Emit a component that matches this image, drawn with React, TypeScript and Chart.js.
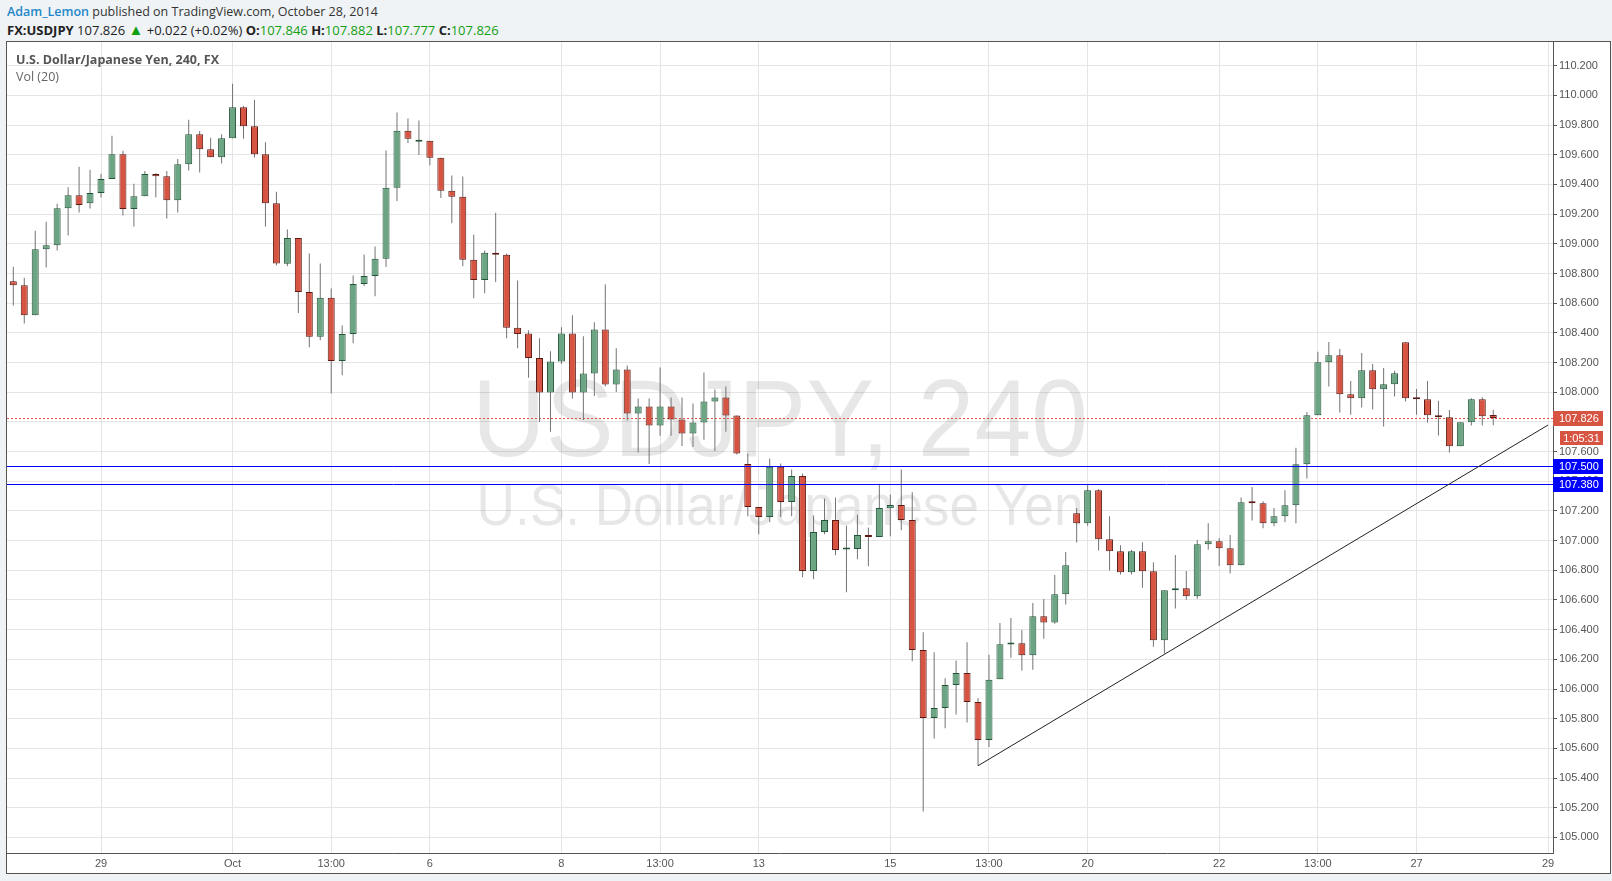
import React, { useEffect, useRef } from "react";
import { Chart, registerables } from "chart.js";

Chart.register(...registerables);

// ---- Candle data (4h USDJPY, Sep 26 - Oct 28 2014) ----
const opens = [
  108.748, 108.721, 108.519, 108.964, 108.991, 109.240, 109.328, 109.274, 109.342, 109.436,
  109.604, 109.234, 109.321, 109.470, 109.456, 109.294, 109.537, 109.739, 109.638, 109.584,
  109.712, 109.921, 109.793, 109.604, 109.274, 108.865, 109.040, 108.676, 108.373, 108.636,
  108.211, 108.393, 108.730, 108.784, 108.899, 109.378, 109.762, 109.688, 109.694, 109.580,
  109.357, 109.317, 108.892, 108.757, 108.939, 108.926, 108.434, 108.396, 108.231, 107.998,
  108.207, 108.396, 107.998, 108.126, 108.422, 108.052, 108.153, 107.856, 107.903, 107.775,
  107.903, 107.816, 107.721, 107.796, 107.937, 107.964, 107.843, 107.517, 107.227, 107.160,
  107.497, 107.261, 107.436, 106.796, 107.058, 107.139, 106.940, 106.944, 107.038, 107.025,
  107.218, 107.240, 107.139, 106.263, 105.804, 105.872, 106.027, 106.108, 105.912, 105.656,
  106.065, 106.300, 106.308, 106.227, 106.490, 106.449, 106.638, 107.184, 107.117, 107.339,
  107.009, 106.928, 106.787, 106.928, 106.793, 106.328, 106.665, 106.679, 106.625, 106.975,
  106.995, 106.948, 106.834, 107.258, 107.252, 107.117, 107.164, 107.238, 107.515, 107.845,
  108.202, 108.249, 107.987, 107.960, 108.148, 108.020, 108.054, 108.337, 107.957, 107.953,
  107.845, 107.831, 107.636, 107.798, 107.953, 107.846,
];
const highs = [
  108.845, 108.771, 109.088, 109.148, 109.270, 109.382, 109.519, 109.499, 109.472, 109.728,
  109.627, 109.404, 109.490, 109.476, 109.490, 109.571, 109.836, 109.760, 109.715, 109.739,
  110.079, 109.928, 109.971, 109.685, 109.351, 109.097, 109.040, 108.935, 108.867, 108.699,
  108.449, 108.787, 108.928, 108.982, 109.629, 109.885, 109.845, 109.831, 109.694, 109.580,
  109.461, 109.454, 109.063, 108.955, 109.209, 108.935, 108.753, 108.418, 108.364, 108.276,
  108.438, 108.519, 108.378, 108.472, 108.728, 108.297, 108.180, 107.957, 107.957, 108.166,
  107.964, 107.964, 107.924, 108.133, 108.018, 108.038, 107.843, 107.587, 107.227, 107.553,
  107.519, 107.479, 107.452, 107.169, 107.283, 107.290, 107.101, 107.175, 107.088, 107.384,
  107.310, 107.479, 107.326, 106.382, 106.247, 106.072, 106.193, 106.315, 105.937, 106.231,
  106.445, 106.479, 106.398, 106.580, 106.607, 106.769, 106.924, 107.220, 107.382, 107.348,
  107.164, 106.969, 106.937, 106.989, 106.854, 106.665, 106.903, 106.796, 107.004, 107.117,
  107.016, 107.038, 107.290, 107.362, 107.265, 107.220, 107.339, 107.625, 107.867, 108.272,
  108.339, 108.292, 108.076, 108.265, 108.191, 108.164, 108.144, 108.337, 108.022, 108.076,
  107.942, 107.881, 107.798, 107.960, 107.966, 107.882,
];
const lows = [
  108.584, 108.463, 108.519, 108.840, 108.955, 109.056, 109.211, 109.238, 109.312, 109.436,
  109.191, 109.117, 109.321, 109.312, 109.171, 109.211, 109.494, 109.481, 109.584, 109.542,
  109.712, 109.708, 109.582, 109.117, 108.854, 108.849, 108.533, 108.303, 108.351, 107.991,
  108.115, 108.330, 108.715, 108.647, 108.843, 109.288, 109.679, 109.598, 109.530, 109.308,
  109.139, 108.849, 108.634, 108.667, 108.742, 108.364, 108.297, 108.097, 107.800, 107.733,
  108.191, 107.957, 107.813, 107.975, 108.038, 108.002, 107.809, 107.593, 107.517, 107.706,
  107.706, 107.638, 107.631, 107.679, 107.604, 107.733, 107.580, 107.164, 107.043, 107.124,
  107.160, 107.164, 106.753, 106.739, 107.043, 106.901, 106.652, 106.874, 106.827, 107.025,
  107.029, 107.070, 106.187, 105.175, 105.667, 105.735, 105.829, 105.775, 105.483, 105.610,
  106.065, 106.211, 106.124, 106.130, 106.339, 106.440, 106.569, 106.987, 107.101, 106.933,
  106.798, 106.771, 106.771, 106.683, 106.285, 106.240, 106.542, 106.602, 106.609, 106.939,
  106.829, 106.778, 106.834, 107.135, 107.083, 107.097, 107.124, 107.117, 107.418, 107.845,
  108.038, 107.863, 107.849, 107.897, 107.883, 107.769, 107.971, 107.937, 107.849, 107.796,
  107.708, 107.593, 107.636, 107.775, 107.775, 107.777,
];
const closes = [
  108.721, 108.519, 108.964, 108.991, 109.240, 109.328, 109.261, 109.342, 109.436, 109.604,
  109.234, 109.321, 109.470, 109.456, 109.294, 109.537, 109.739, 109.638, 109.584, 109.712,
  109.921, 109.793, 109.604, 109.274, 108.868, 109.040, 108.676, 108.373, 108.636, 108.211,
  108.393, 108.730, 108.784, 108.899, 109.378, 109.762, 109.708, 109.692, 109.580, 109.357,
  109.317, 108.892, 108.757, 108.939, 108.926, 108.434, 108.393, 108.231, 107.998, 108.207,
  108.396, 107.998, 108.126, 108.422, 108.052, 108.153, 107.856, 107.903, 107.775, 107.903,
  107.816, 107.721, 107.796, 107.937, 107.964, 107.843, 107.587, 107.227, 107.160, 107.497,
  107.261, 107.436, 106.796, 107.058, 107.139, 106.937, 106.942, 107.038, 107.025, 107.220,
  107.240, 107.139, 106.263, 105.804, 105.872, 106.027, 106.108, 105.912, 105.656, 106.063,
  106.301, 106.306, 106.227, 106.490, 106.449, 106.638, 106.834, 107.117, 107.339, 107.009,
  106.928, 106.787, 106.928, 106.793, 106.328, 106.665, 106.679, 106.625, 106.975, 106.995,
  106.948, 106.834, 107.258, 107.252, 107.117, 107.164, 107.238, 107.515, 107.845, 108.202,
  108.249, 107.987, 107.960, 108.148, 108.020, 108.054, 108.128, 107.960, 107.953, 107.845,
  107.831, 107.636, 107.798, 107.953, 107.838, 107.826,
];

// ---- Axis ticks ----
const timeTickIndex = [8, 20, 29, 38, 50, 59, 68, 80, 89, 98, 110, 119, 128, 140];
const timeTickLabels = ["29", "Oct", "13:00", "6", "8", "13:00", "13", "15", "13:00", "20", "22", "13:00", "27", "29"];
const priceTicks = [
  105.0, 105.2, 105.4, 105.6, 105.8, 106.0, 106.2, 106.4, 106.6, 106.8, 107.0, 107.2, 107.4,
  107.6, 107.8, 108.0, 108.2, 108.4, 108.6, 108.8, 109.0, 109.2, 109.4, 109.6, 109.8, 110.0, 110.2,
];

// ---- Annotations ----
const lastPrice = 107.826;
const countdown = "1:05:31";
const levelLines = [107.5, 107.38];
const trendIndex = [88, 140];
const trendPrice = [105.483, 107.779];

// ---- Header values ----
const symbolName = "FX:USDJPY";
const headerChange = "+0.022 (+0.02%)";
const headerOHLC = [
  ["O:", "107.846"],
  ["H:", "107.882"],
  ["L:", "107.777"],
  ["C:", "107.826"],
];

const UP_FILL = "#6ba583";
const DOWN_FILL = "#d75442";
const UP_BORDER = "#225437";
const DOWN_BORDER = "#5b1a13";
const WICK = "#737375";
const GRID = "#e5e5e5";
const AXIS = "#555555";
const AXIS_FONT = '"Liberation Sans", Arial, sans-serif';

function drawFitted(ctx: CanvasRenderingContext2D, text: string, cx: number, y: number, size: number, targetW: number) {
  ctx.font = `${size}px ${AXIS_FONT}`;
  const w = ctx.measureText(text).width;
  ctx.save();
  ctx.translate(cx, y);
  ctx.scale(targetW / w, 1);
  ctx.textAlign = "center";
  ctx.textBaseline = "alphabetic";
  ctx.fillText(text, 0, 0);
  ctx.restore();
}

const overlayPlugin = {
  id: "tvOverlay",
  beforeDatasetsDraw(chart: any) {
    const { ctx, chartArea, scales } = chart;
    ctx.save();
    ctx.beginPath();
    ctx.rect(chartArea.left, chartArea.top, chartArea.right - chartArea.left, chartArea.bottom - chartArea.top);
    ctx.clip();
    const cx = (chartArea.left + chartArea.right) / 2;
    const cy = (chartArea.top + chartArea.bottom) / 2;
    ctx.fillStyle = "rgba(0,0,0,0.095)";
    drawFitted(ctx, "USDJPY, 240", cx, cy + 8, 110, 616);
    drawFitted(ctx, "U.S. Dollar/Japanese Yen", cx, cy + 77, 57, 607);
    // last price dotted line
    const py = Math.round(scales.y.getPixelForValue(lastPrice)) + 0.5;
    ctx.strokeStyle = DOWN_FILL;
    ctx.lineWidth = 1;
    ctx.setLineDash([2, 2]);
    ctx.beginPath();
    ctx.moveTo(chartArea.left, py);
    ctx.lineTo(chartArea.right, py);
    ctx.stroke();
    ctx.restore();
  },
  afterDatasetsDraw(chart: any) {
    const { ctx, chartArea, scales } = chart;
    ctx.save();
    ctx.beginPath();
    ctx.rect(chartArea.left, chartArea.top, chartArea.right - chartArea.left, chartArea.bottom - chartArea.top);
    ctx.clip();
    ctx.strokeStyle = "#0000ff";
    ctx.lineWidth = 1;
    for (const lv of levelLines) {
      const y = Math.round(scales.y.getPixelForValue(lv)) + 0.5;
      ctx.beginPath();
      ctx.moveTo(chartArea.left, y);
      ctx.lineTo(chartArea.right, y);
      ctx.stroke();
    }
    ctx.strokeStyle = "#222";
    ctx.beginPath();
    ctx.moveTo(scales.x.getPixelForValue(trendIndex[0]), scales.y.getPixelForValue(trendPrice[0]));
    ctx.lineTo(scales.x.getPixelForValue(trendIndex[1]), scales.y.getPixelForValue(trendPrice[1]));
    ctx.stroke();
    ctx.restore();
  },
  afterDraw(chart: any) {
    const { ctx, chartArea, scales } = chart;
    ctx.save();
    // legend texts
    ctx.textBaseline = "middle";
    ctx.textAlign = "left";
    ctx.fillStyle = "#555";
    ctx.font = 'bold 12.5px "Open Sans", sans-serif';
    ctx.fillText("U.S. Dollar/Japanese Yen, 240, FX", chartArea.left + 9, chartArea.top + 18);
    ctx.fillStyle = "#666";
    ctx.font = '12.5px "Open Sans", sans-serif';
    ctx.fillText("Vol (20)", chartArea.left + 9, chartArea.top + 35);

    // axis boxes
    const x0 = chartArea.right;
    ctx.font = `11px ${AXIS_FONT}`;
    const box = (y: number, color: string, text: string, left: number) => {
      const top = Math.round(y) - 7;
      ctx.fillStyle = color;
      ctx.fillRect(left, top, x0 + 50 - left, 15);
      ctx.fillStyle = "#fff";
      ctx.textAlign = "left";
      ctx.fillText(text, left + 6, top + 8);
    };
    const lp = scales.y.getPixelForValue(lastPrice);
    box(lp, DOWN_FILL, lastPrice.toFixed(3), x0);
    // countdown
    const ct = Math.round(lp) + 13;
    ctx.fillStyle = DOWN_FILL;
    ctx.fillRect(x0 + 7, ct, 43, 14);
    ctx.fillStyle = "#fff";
    ctx.textAlign = "center";
    ctx.fillText(countdown, x0 + 28.5, ct + 7.5);
    for (const lv of levelLines) {
      box(scales.y.getPixelForValue(lv), "#0000ff", lv.toFixed(3), x0);
    }
    ctx.restore();
  },
};

function CandleChart() {
  const ref = useRef<HTMLCanvasElement | null>(null);
  useEffect(() => {
    if (!ref.current) return;
    const idx = opens.map((_, i) => i);
    const chart = new Chart(ref.current, {
      type: "bar",
      data: {
        datasets: [
          {
            label: "wick",
            data: idx.map((i) => ({ x: i, y: [lows[i], highs[i]] })) as any,
            backgroundColor: WICK,
            barThickness: 1,
            grouped: false,
            inflateAmount: 0,
            order: 2,
          } as any,
          {
            label: "body",
            data: idx.map((i) => ({ x: i, y: [opens[i], closes[i]] })) as any,
            backgroundColor: idx.map((i) => (closes[i] >= opens[i] ? UP_FILL : DOWN_FILL)),
            borderColor: idx.map((i) => (closes[i] >= opens[i] ? UP_BORDER : DOWN_BORDER)),
            borderWidth: 1,
            borderSkipped: false,
            barThickness: 7,
            minBarLength: 2,
            grouped: false,
            inflateAmount: 0,
            order: 1,
          } as any,
        ],
      },
      options: {
        animation: false,
        responsive: false,
        maintainAspectRatio: false,
        layout: { padding: 0 },
        plugins: { legend: { display: false }, tooltip: { enabled: false } },
        scales: {
          x: {
            type: "linear",
            position: "bottom",
            min: -0.575,
            max: 140.45,
            offset: false,
            afterBuildTicks: (s: any) => {
              s.ticks = timeTickIndex.map((v) => ({ value: v }));
            },
            afterFit: (s: any) => {
              s.height = 20;
              s.paddingLeft = 0;
              s.paddingRight = 0;
              s.paddingTop = 0;
              s.paddingBottom = 0;
            },
            ticks: {
              autoSkip: false,
              maxRotation: 0,
              padding: 4,
              color: AXIS,
              font: { family: AXIS_FONT, size: 11 },
              callback: (v: any) => {
                const k = timeTickIndex.indexOf(Number(v));
                return k >= 0 ? timeTickLabels[k] : "";
              },
            },
            grid: { color: GRID, drawTicks: false, offset: false },
            border: { color: AXIS, width: 1 },
          },
          y: {
            type: "linear",
            position: "right",
            min: 104.895,
            max: 110.36,
            afterBuildTicks: (s: any) => {
              s.ticks = priceTicks.map((v) => ({ value: v }));
            },
            afterFit: (s: any) => {
              s.width = 57;
              s.paddingLeft = 0;
              s.paddingRight = 0;
              s.paddingTop = 0;
              s.paddingBottom = 0;
            },
            ticks: {
              padding: 2,
              color: AXIS,
              font: { family: AXIS_FONT, size: 11 },
              callback: (v: any) => Number(v).toFixed(3),
            },
            grid: { color: GRID, tickLength: 4, tickColor: AXIS, drawTicks: true, offset: false },
            border: { color: AXIS, width: 1 },
          },
        } as any,
      },
      plugins: [overlayPlugin],
    });
    return () => chart.destroy();
  }, []);
  return <canvas ref={ref} width={1603} height={831} style={{ display: "block", width: 1603, height: 831 }} />;
}

export default function App() {
  const green = "#12a012";
  return (
    <div
      style={{
        position: "fixed",
        left: 0,
        top: 0,
        width: 1612,
        height: 881,
        background: "#f0f3f6",
        fontFamily: '"Open Sans", sans-serif',
        overflow: "hidden",
      }}
    >
      <div style={{ position: "absolute", left: 7, top: 2, fontSize: 12.5, lineHeight: "20px", color: "#333", whiteSpace: "nowrap" }}>
        <span style={{ color: "#1e88c8", fontWeight: 600 }}>Adam_Lemon</span> published on TradingView.com, October 28, 2014
      </div>
      <div style={{ position: "absolute", left: 7, top: 19, fontSize: 13, lineHeight: "20px", color: "#222", whiteSpace: "nowrap" }}>
        <b>{symbolName}</b> {lastPrice.toFixed(3)} <span style={{ color: green, fontSize: 15 }}>▲</span> {headerChange}{" "}
        {headerOHLC.map(([k, v]) => (
          <span key={k}>
            <b>{k}</b>
            <span style={{ color: green }}>{v}</span>{" "}
          </span>
        ))}
      </div>
      <div
        style={{
          position: "absolute",
          left: 6,
          top: 41,
          width: 1603,
          height: 831,
          border: "1px solid #555",
          background: "#fff",
        }}
      >
        <CandleChart />
      </div>
    </div>
  );
}
